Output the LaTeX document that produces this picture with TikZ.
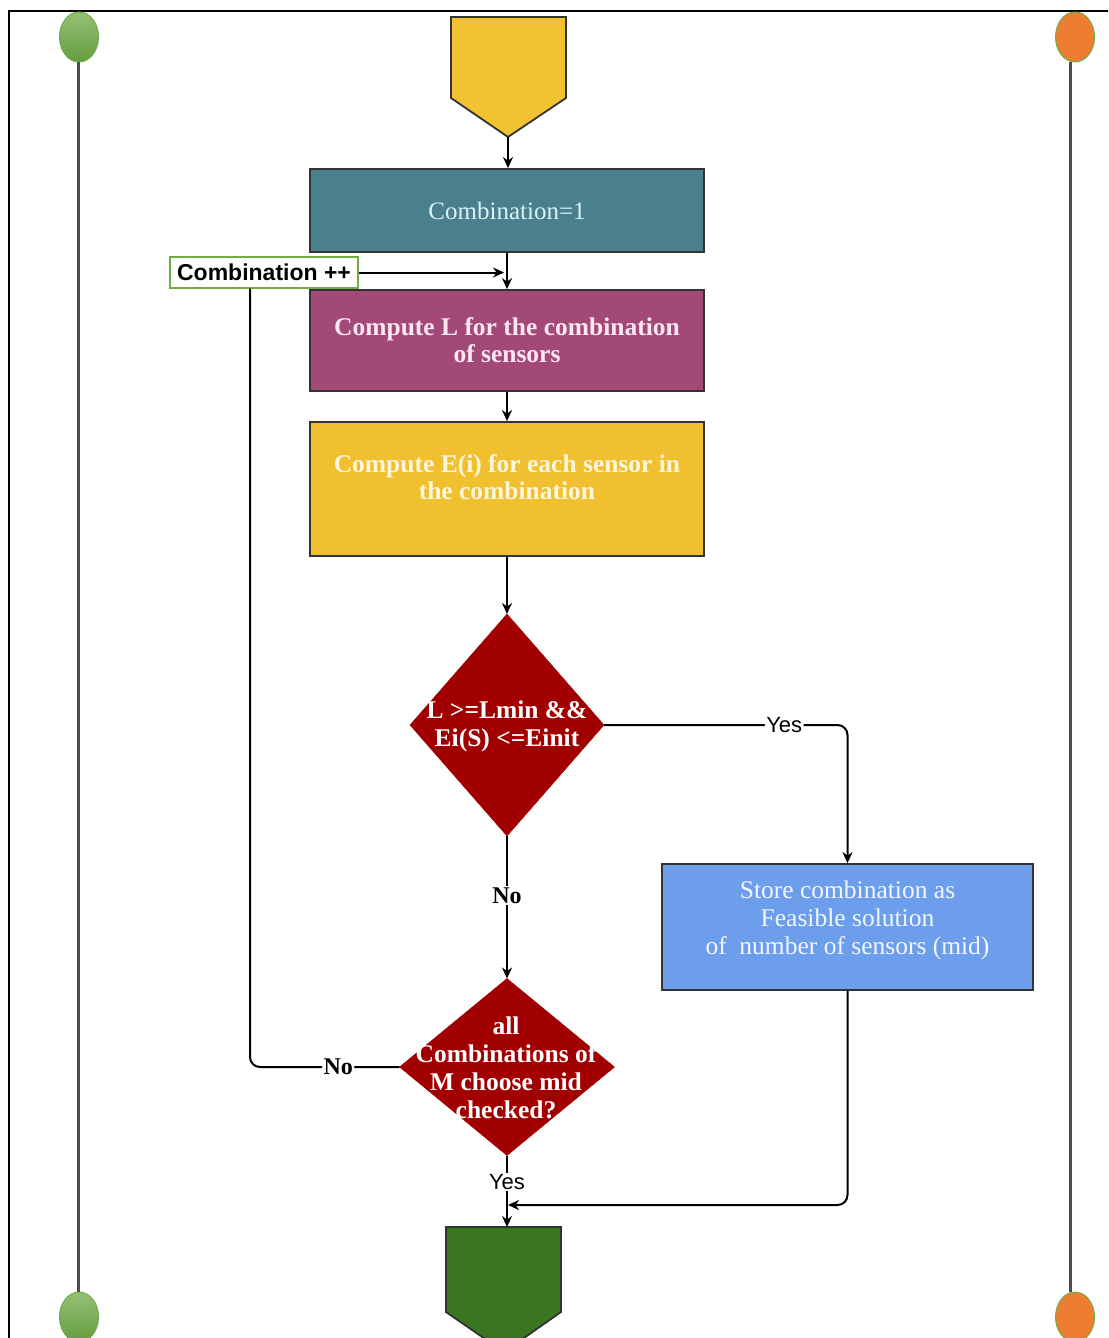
\documentclass[tikz,border=0pt]{standalone}
\usepackage{fontspec}
\setmainfont{Liberation Serif}
\newfontfamily\labelsans{Liberation Sans}
\usetikzlibrary{shapes.geometric,arrows.meta}

\definecolor{startyellow}{HTML}{F1C232}
\definecolor{tealbox}{HTML}{4A7F8E}
\definecolor{tealtext}{HTML}{D6F4F4}
\definecolor{plumbox}{HTML}{A34977}
\definecolor{plumtext}{HTML}{FFE6F2}
\definecolor{goldbox}{HTML}{F0C030}
\definecolor{goldtext}{HTML}{FFF6DC}
\definecolor{darkred}{HTML}{A20000}
\definecolor{skyblue}{HTML}{6D9EEB}
\definecolor{bluetext}{HTML}{F2F6FF}
\definecolor{endgreen}{HTML}{3A7520}
\definecolor{pingreen}{HTML}{70AD47}
\definecolor{pinorange}{HTML}{ED7D31}
\definecolor{railgray}{HTML}{4D4D4D}
\definecolor{edgegray}{HTML}{333333}

\tikzset{
  stepbox/.style={rectangle, draw=edgegray, line width=1.8pt, inner sep=0pt,
    minimum width=394pt, align=center},
  boxtext/.style={align=center, inner sep=0pt},
  decision/.style={diamond, draw=darkred, fill=darkred, inner sep=0pt, outer sep=0pt},
  dectext/.style={align=center, inner sep=0pt, text=white,
    font=\bfseries\fontsize{25.5}{28}\selectfont},
  conn/.style={draw=black, line width=2pt},
  arr/.style={conn, -{Stealth[length=11pt,width=10pt]}},
  edgelbl/.style={fill=white, inner sep=1.5pt},
  yeslbl/.style={edgelbl, font=\labelsans\fontsize{22}{24}\selectfont},
  nolbl/.style={edgelbl, font=\bfseries\fontsize{24}{26}\selectfont},
  pin/.style={ellipse, minimum width=39pt, minimum height=50pt, inner sep=0pt,
    draw=pingreen, line width=1pt},
  rail/.style={draw=railgray, line width=3pt}
}

\begin{document}
\begin{tikzpicture}[x=1pt,y=-1pt]
  \useasboundingbox (0,0) rectangle (1108,1338);
  \clip (0,0) rectangle (1108,1338);
  \fill[white] (0,0) rectangle (1108,1338);

  % outer frame (top and left edges)
  \draw[line width=2.4pt] (9,1345) -- (9,11) -- (1115,11);

  % side rails with their end pins
  \node[pin, top color=pingreen!75!white, bottom color=pingreen!90!black] (gl1) at (79,37) {};
  \node[pin, top color=pingreen!75!white, bottom color=pingreen!90!black] (gl2) at (79,1317) {};
  \node[pin, fill=pinorange] (or1) at (1075,37) {};
  \node[pin, fill=pinorange] (or2) at (1075,1317) {};
  \draw[rail] ([xshift=-1pt]gl1.south) -- ([xshift=-1pt]gl2.north);
  \draw[rail] ([xshift=-5pt]or1.south) -- ([xshift=-5pt]or2.north);

  % start terminal
  \draw[draw=edgegray, line width=1.8pt, fill=startyellow]
    (451,17) -- (566,17) -- (566,98) -- (508,137) -- (451,98) -- cycle;
  \coordinate (st) at (508,137);

  % process boxes
  \node[stepbox, fill=tealbox, minimum height=83pt, text=tealtext,
        font=\fontsize{25}{28}\selectfont] (b1) at (507,210.5) {Combination=1};
  \node[stepbox, fill=plumbox, minimum height=101pt, text=plumtext,
        font=\bfseries\fontsize{25.5}{27}\selectfont] (b2) at (507,340.5)
        {Compute L for the combination\\of sensors};
  \node[stepbox, fill=goldbox, minimum height=134pt] (b3) at (507,489) {};
  \node[boxtext, text=goldtext, font=\bfseries\fontsize{25.5}{27}\selectfont]
        (b3t) at ([yshift=12pt]b3.center) {Compute E(i) for each sensor in\\the combination};

  % loop-back label
  \node[draw=pingreen, line width=1.2pt, minimum width=188pt, minimum height=31pt,
        inner sep=2pt, font=\labelsans\bfseries\fontsize{23}{25}\selectfont]
        (inc) at (264,272.5) {Combination ++};

  % decisions
  \node[decision, minimum width=194pt, minimum height=222pt] (d1) at (507,725) {};
  \node[dectext] (d1t) at (507,726) {L >=Lmin \&\&\\Ei(S) <=Einit};
  \node[decision, minimum width=215pt, minimum height=177pt] (d2) at (507,1067) {};
  \node[dectext] (d2t) at (506,1068) {all\\Combinations of\\M choose mid\\checked?};

  % store result
  \node[stepbox, fill=skyblue, minimum width=371pt, minimum height=126pt] (store) at (847.5,927) {};
  \node[boxtext, text=bluetext, font=\fontsize{25.5}{28}\selectfont]
        (storet) at ([yshift=7pt]store.center)
        {Store combination as\\Feasible solution\\of\ \ number of sensors (mid)};

  % end terminal
  \draw[draw=edgegray, line width=1.8pt, fill=endgreen]
    (446,1227) -- (561,1227) -- (561,1312) -- (504,1352) -- (446,1312) -- cycle;
  \coordinate (en) at (507,1227);

  % main flow
  \draw[arr] (st) -- (st |- b1.north);
  \draw[arr] (b1.south) -- (b2.north);
  \draw[arr] (b2.south) -- (b3.north);
  \draw[arr] (b3.south) -- (d1.north);
  \draw[arr] (d1.south) -- node[nolbl, pos=0.42] {No} (d2.north);
  \draw[arr] (d2.south) -- node[yeslbl, pos=0.37] {Yes} (en);

  % feasible branch
  \draw[arr, rounded corners=10pt] (d1.east) -- node[yeslbl, pos=0.74] {Yes}
        (d1.east -| store.north) -- (store.north);
  \coordinate (merge) at (508,1205);
  \draw[arr, rounded corners=10pt] (store.south) |- (merge);

  % loop back to the next combination
  \coordinate (loopc) at (250,1067);
  \draw[conn, rounded corners=10pt] (d2.west) -- node[nolbl, pos=0.41] {No} (loopc)
        -- ([xshift=-14pt]inc.south);
  \draw[arr, shorten >=3pt] (inc.east) -- (inc.east -| b1.south);
\end{tikzpicture}
\end{document}
